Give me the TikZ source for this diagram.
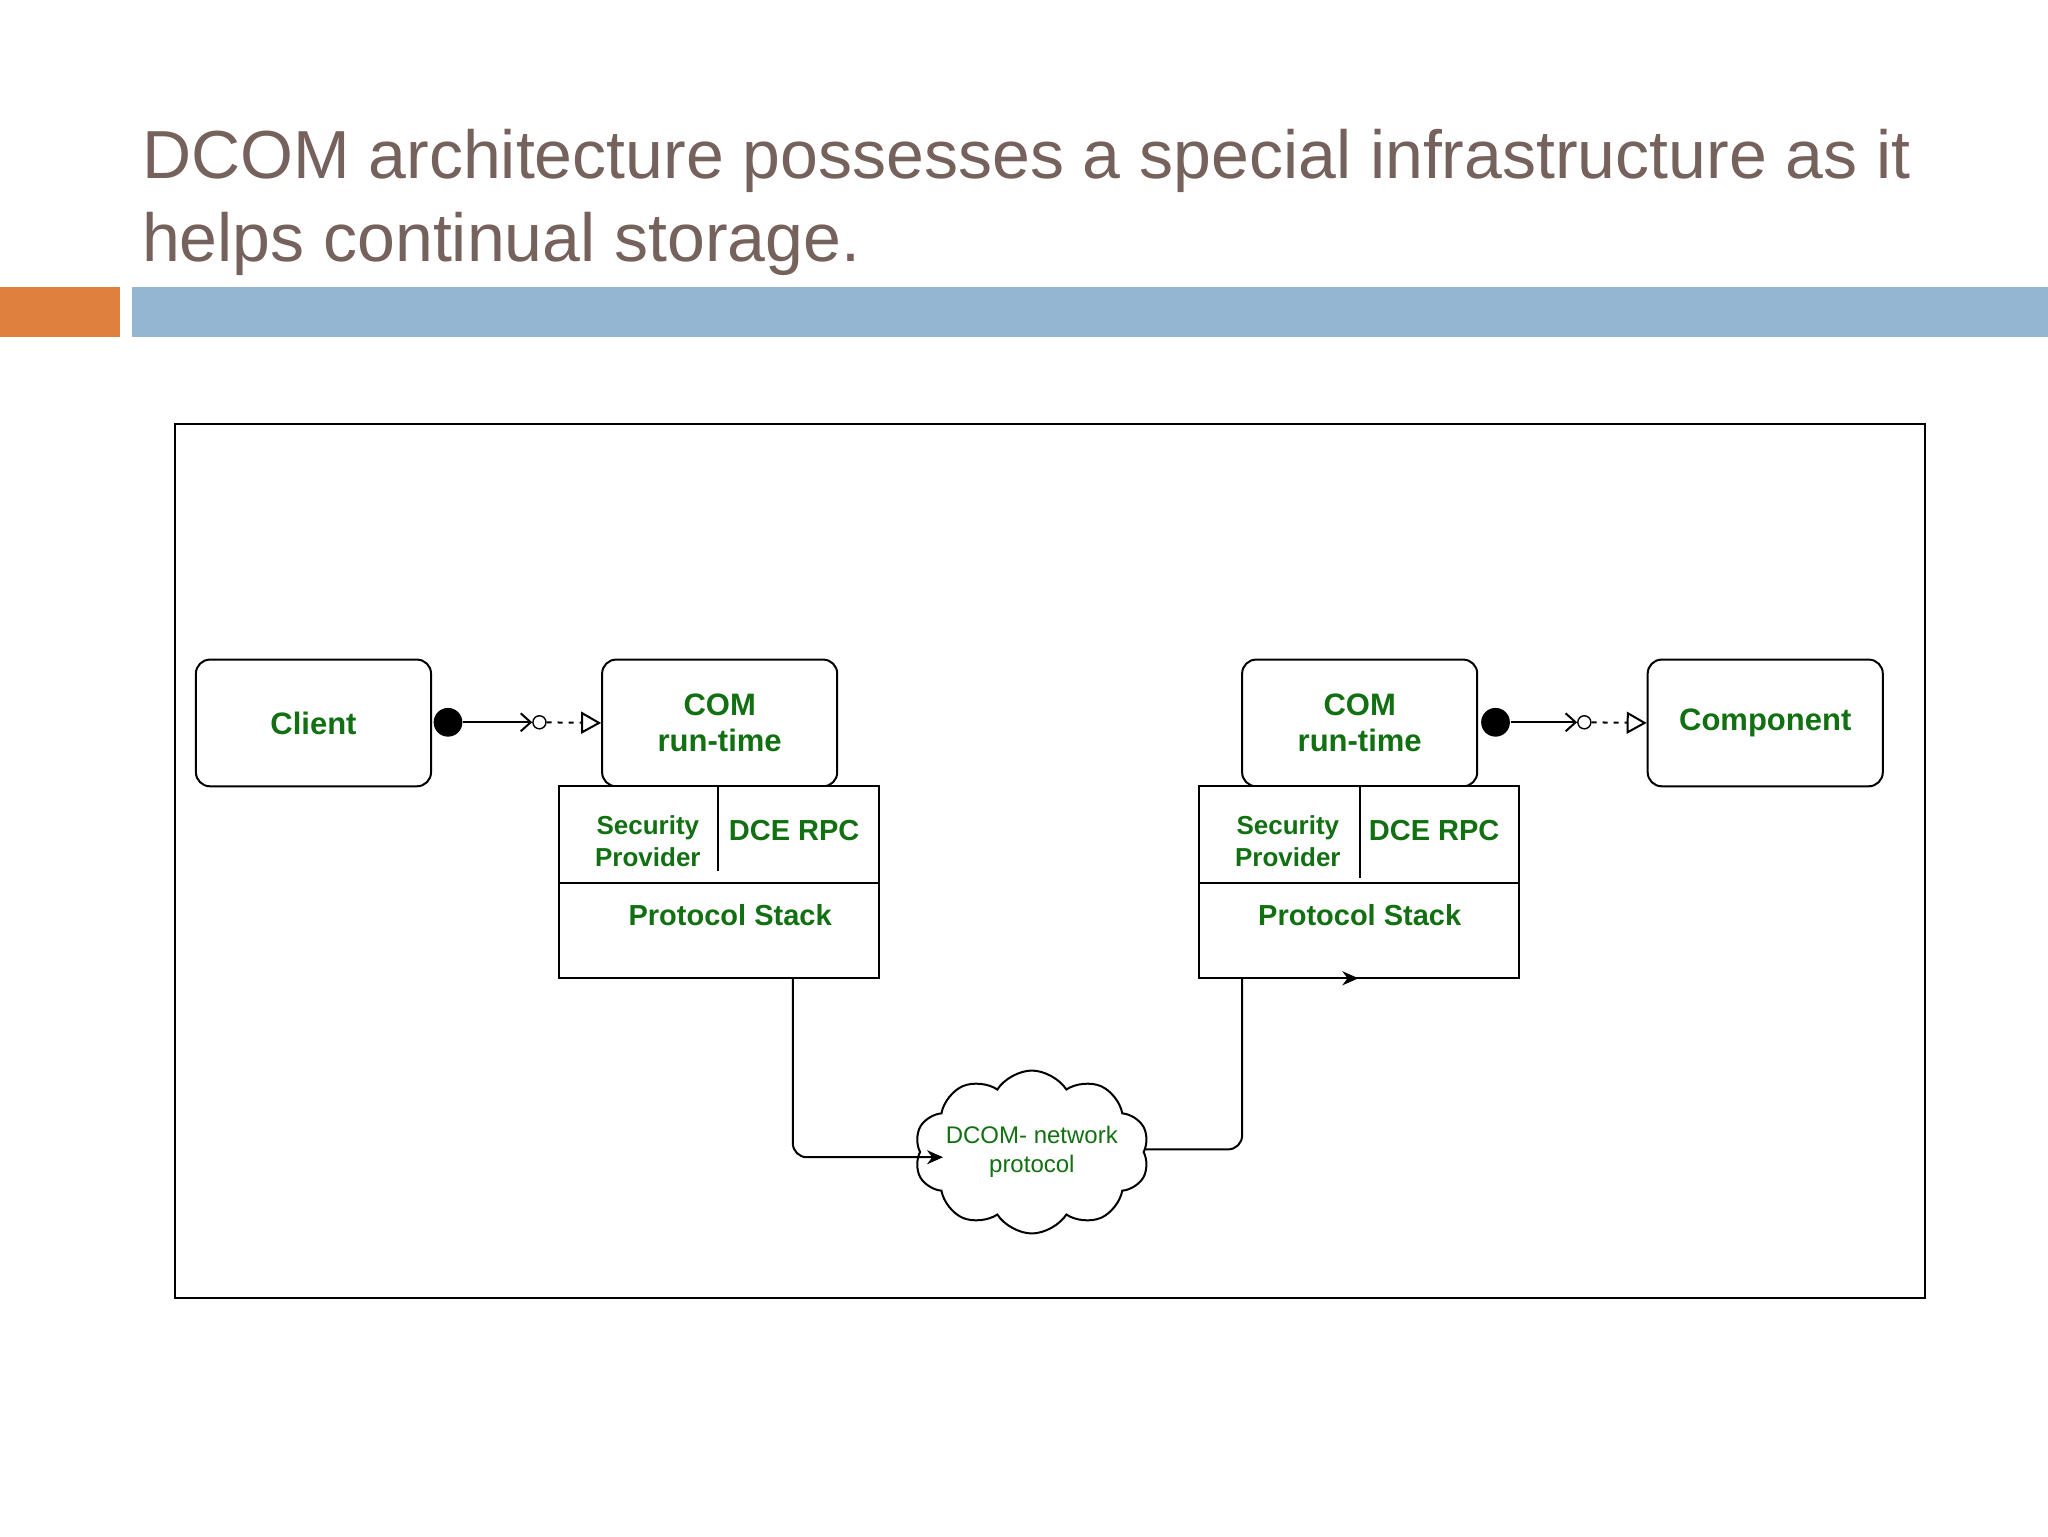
\documentclass[tikz,border=0pt]{standalone}
\usepackage{fontspec}
\setmainfont{Liberation Sans}
\usetikzlibrary{arrows.meta,shapes.symbols}
\definecolor{titlec}{HTML}{76625C}
\definecolor{orangec}{HTML}{E0803F}
\definecolor{bluec}{HTML}{94B6D2}
\definecolor{gtxt}{HTML}{127012}
\begin{document}
\begin{tikzpicture}[x=1.3061pt,y=-1.3061pt,
  box/.style={draw,line width=2pt,rounded corners=14pt,text=gtxt,font=\fontsize{31}{36}\selectfont\bfseries,align=center},
  lab/.style={text=gtxt,font=\fontsize{29}{32}\selectfont\bfseries,align=center},
  conn/.style={line width=2pt,rounded corners=14pt},
  line width=2pt]
\useasboundingbox (0,0) rectangle (1568,1176);
\fill[white] (0,0) rectangle (1568,1176);
\node[anchor=base west,text=titlec,font=\fontsize{68}{84}\selectfont,align=left,inner sep=0pt] (title) at (108,137) {DCOM architecture possesses a special infrastructure as it};
\node[anchor=base west,text=titlec,font=\fontsize{68}{84}\selectfont,inner sep=0pt] (title2) at (108,200) {helps continual storage.};
\fill[orangec] (0,220) rectangle (92,258);
\fill[bluec] (101,220) rectangle (1568,258);
\draw[line width=2pt] (134,325) rectangle (1474,994);
% boxes
\node[box,minimum width=180*1.3061pt,minimum height=97*1.3061pt] (client) at (240,553.5) {Client};
\node[box,minimum width=180*1.3061pt,minimum height=97*1.3061pt] (com1) at (551,553.5) {COM\\run-time};
\node[box,minimum width=180*1.3061pt,minimum height=97*1.3061pt] (com2) at (1041,553.5) {COM\\run-time};
\node[box,minimum width=180*1.3061pt,minimum height=97*1.3061pt] (comp) at (1351.5,553.5) {Component};
% stacks
\draw[fill=white] (428,602) rectangle (673,749);
\draw (428,676) -- (673,676);
\draw (550,602) -- (550,667);
\node[lab,font=\fontsize{26}{32}\selectfont\bfseries] (sec1) at (496,644) {Security\\Provider};
\node[lab] (dce1) at (608,636) {DCE RPC};
\node[lab] (ps1) at (559,701) {Protocol Stack};
\draw[fill=white] (918,602) rectangle (1163,749);
\draw (918,676) -- (1163,676);
\draw (1041,602) -- (1041,672);
\node[lab,font=\fontsize{26}{32}\selectfont\bfseries] (sec2) at (986,644) {Security\\Provider};
\node[lab] (dce2) at (1098,636) {DCE RPC};
\node[lab] (ps2) at (1041,701) {Protocol Stack};
\coordinate (s1b) at (607,749);
\coordinate (s2b) at (951,749);
\coordinate (s2m) at (1040,749);
\coordinate (cin) at (722,886);
\coordinate (cout) at (866,880);
% lollipop connectors
\node[circle,fill=black,minimum size=22*1.3061pt,inner sep=0pt] (dot1) at (343,553) {};
\node[circle,draw,minimum size=10*1.3061pt,inner sep=0pt,line width=1.4pt] (o1) at (413,553) {};
\draw[-{Straight Barb[length=10pt,width=18pt]}] (dot1) -- (o1);
\draw[dash pattern=on 5pt off 6pt,-{Triangle[open,length=20pt,width=22pt]}] (o1) -- (com1.west);
\node[circle,fill=black,minimum size=22*1.3061pt,inner sep=0pt] (dot2) at (1145,553) {};
\node[circle,draw,minimum size=10*1.3061pt,inner sep=0pt,line width=1.4pt] (o2) at (1213,553) {};
\draw[-{Straight Barb[length=10pt,width=18pt]}] (dot2) -- (o2);
\draw[dash pattern=on 5pt off 6pt,-{Triangle[open,length=20pt,width=22pt]}] (o2) -- (comp.west);
% network connectors
\draw[conn] (cout) -- (951,880) -- (s2b);
\draw[line width=2pt,-{Stealth[length=16pt,width=14pt]}] (s2b) -- (s2m);
% cloud
\node[draw,fill=white,cloud,cloud puffs=10,cloud puff arc=115,aspect=1.7,minimum width=150*1.3061pt,minimum height=88*1.3061pt,text=gtxt,font=\fontsize{24}{29}\selectfont,align=center,inner sep=-7pt] (cloud) at (790,882) {DCOM- network\\protocol};
\draw[conn,-{Stealth[length=16pt,width=14pt]}] (s1b) -- (607,886) -- (cin);
\end{tikzpicture}
\end{document}
